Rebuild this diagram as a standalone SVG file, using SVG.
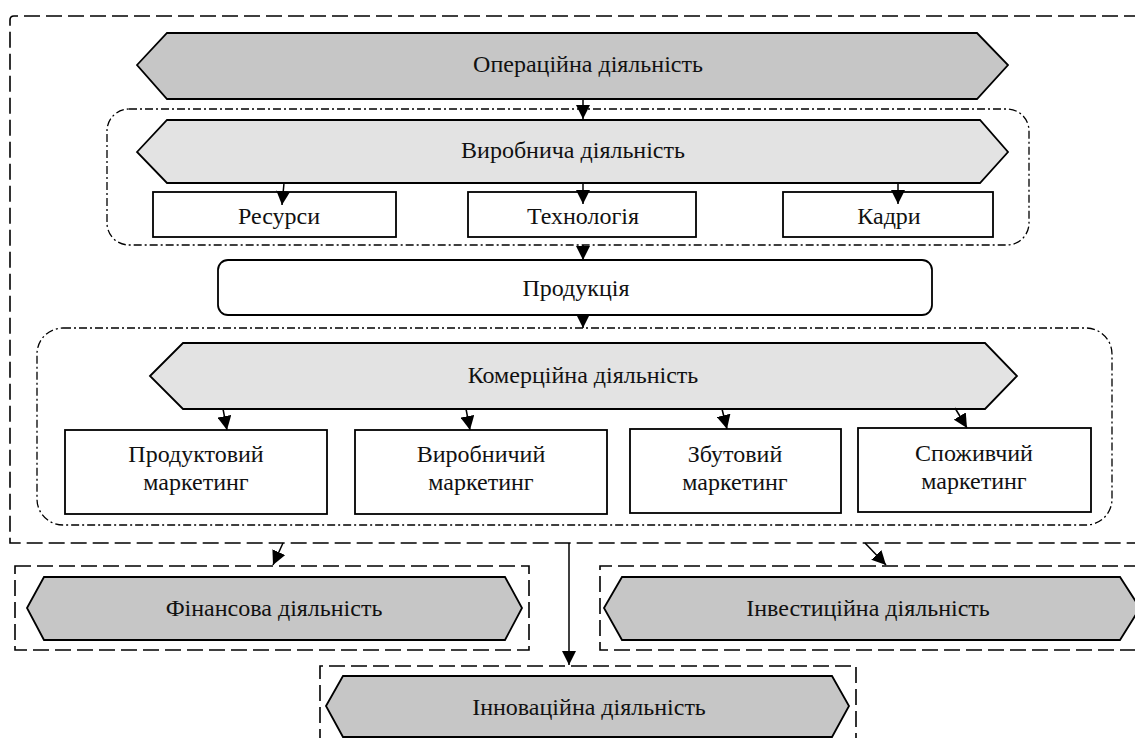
<svg xmlns="http://www.w3.org/2000/svg" width="1135" height="738" viewBox="0 0 1135 738" font-family="Liberation Serif, Times New Roman, DejaVu Serif, serif">
<defs>
<marker id="ah" viewBox="0 0 14 14" refX="14" refY="7" markerWidth="14" markerHeight="14" markerUnits="userSpaceOnUse" orient="auto">
<path d="M0,0 L14,7 L0,14 Z" fill="#000"/>
</marker>
</defs>
<style>
text{font-family:'Liberation Serif','Times New Roman','DejaVu Serif',serif;font-size:24px;fill:#111;text-anchor:middle}
.dark{fill:#c6c6c6;stroke:#000;stroke-width:1.8}
.light{fill:#e3e3e3;stroke:#000;stroke-width:1.8}
.box{fill:#fff;stroke:#000;stroke-width:1.8}
.dash{fill:none;stroke:#000;stroke-width:1.6;stroke-dasharray:16 6}
.dd{fill:none;stroke:#000;stroke-width:1.3;stroke-dasharray:8 3 2 3}
.conn{fill:none;stroke:#000;stroke-width:1.5;marker-end:url(#ah)}
</style>
<rect width="1135" height="738" fill="#fff"/>

<g id="outer-frame">
<path class="dash" d="M1140,16 L14,16 Q10,16 10,20 L10,543 L1140,543"/>
</g>

<g id="operational">
<polygon class="dark" points="137,65 167,33 977,33 1008,65 977,99 167,99"/>
<text x="588" y="72">Операційна діяльність</text>
</g>

<g id="production-group">
<rect class="dd" x="107" y="109" width="922" height="136" rx="22"/>
</g>

<g id="production-activity">
<polygon class="light" points="137,152 167,120 980,120 1008,152 980,183 167,183"/>
<text x="573" y="158">Виробнича діяльність</text>
</g>

<g id="resources">
<rect class="box" x="153" y="192" width="243" height="45"/>
<text x="279" y="224">Ресурси</text>
</g>
<g id="technology">
<rect class="box" x="468" y="192" width="228" height="45"/>
<text x="583" y="224">Технологія</text>
</g>
<g id="staff">
<rect class="box" x="783" y="192" width="210" height="45"/>
<text x="889" y="224">Кадри</text>
</g>

<g id="product">
<rect class="box" x="218" y="260" width="714" height="55" rx="10"/>
<text x="576" y="296">Продукція</text>
</g>

<g id="commercial-group">
<rect class="dd" x="37" y="328" width="1075" height="197" rx="26"/>
</g>

<g id="commercial-activity">
<polygon class="light" points="150,376 183,343 985,343 1017,376 985,409 183,409"/>
<text x="583" y="383">Комерційна діяльність</text>
</g>

<g id="product-marketing">
<rect class="box" x="65" y="430" width="262" height="84"/>
<text x="196" y="462">Продуктовий</text>
<text x="196" y="490">маркетинг</text>
</g>
<g id="production-marketing">
<rect class="box" x="355" y="430" width="252" height="84"/>
<text x="481" y="462">Виробничий</text>
<text x="481" y="490">маркетинг</text>
</g>
<g id="sales-marketing">
<rect class="box" x="630" y="429" width="211" height="84"/>
<text x="735" y="462">Збутовий</text>
<text x="735" y="490">маркетинг</text>
</g>
<g id="consumer-marketing">
<rect class="box" x="858" y="428" width="233" height="84"/>
<text x="974" y="461">Споживчий</text>
<text x="974" y="489">маркетинг</text>
</g>

<g id="financial">
<rect class="dash" x="15" y="566" width="514" height="84"/>
<polygon class="dark" points="27,608 44,577 505,577 522,608 505,640 44,640"/>
<text x="274" y="616">Фінансова діяльність</text>
</g>

<g id="investment">
<path class="dash" d="M1140,566 L600,566 L600,650 L1140,650"/>
<polygon class="dark" points="604,608 622,577 1120,577 1140,608 1120,640 622,640"/>
<text x="868" y="616">Інвестиційна діяльність</text>
</g>

<g id="innovation">
<path class="dash" d="M320,745 L320,666 L856,666 L856,745"/>
<polygon class="dark" points="326,706 343,676 832,676 849,706 832,737 343,737"/>
<text x="589" y="715">Інноваційна діяльність</text>
</g>

<g id="connectors">
<line class="conn" x1="583" y1="99" x2="583" y2="119"/>
<line class="conn" x1="284" y1="183" x2="282" y2="205"/>
<line class="conn" x1="583" y1="183" x2="583" y2="204"/>
<line class="conn" x1="898" y1="183" x2="898" y2="204"/>
<line class="conn" x1="583" y1="245" x2="583" y2="260"/>
<line class="conn" x1="583" y1="315" x2="583" y2="328"/>
<line class="conn" x1="223" y1="409" x2="227" y2="430"/>
<line class="conn" x1="466" y1="409" x2="470" y2="430"/>
<line class="conn" x1="722" y1="409" x2="727" y2="429"/>
<line class="conn" x1="955" y1="408" x2="967" y2="428"/>
<line class="conn" x1="283" y1="543" x2="273" y2="565"/>
<line class="conn" x1="865" y1="543" x2="886" y2="565"/>
<line class="conn" x1="569" y1="543" x2="569" y2="665"/>
</g>
</svg>
